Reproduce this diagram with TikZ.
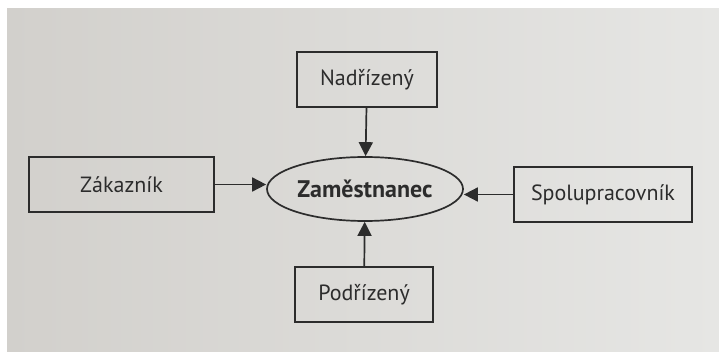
\documentclass[tikz,border=0pt]{standalone}
\usepackage{fontspec}
\setmainfont{PT Sans}
\usetikzlibrary{arrows.meta,shapes.geometric}
\definecolor{paperL}{RGB}{210,208,204}
\definecolor{paperR}{RGB}{230,230,228}
\definecolor{ink}{RGB}{44,44,44}
\tikzset{
  box/.style={draw=ink, line width=1.7pt, rectangle, inner sep=0pt,
    minimum height=55pt, text=ink, font=\fontsize{22}{22}\selectfont},
  hub/.style={draw=ink, line width=1.7pt, ellipse, inner sep=0pt,
    minimum width=196pt, minimum height=64pt, text=ink,
    font=\fontsize{24}{24}\selectfont\bfseries},
  link/.style={draw=ink, line width=1.7pt,
    -{Triangle[length=14pt,width=14pt]}}
}
\begin{document}
\begin{tikzpicture}[x=1pt,y=-1pt]
  \useasboundingbox (0,0) rectangle (719,352);
  % page background
  \fill[white] (0,0) rectangle (719,352);
  \shade[left color=paperL, right color=paperR] (7,9) rectangle (719,352);

  % central ellipse and the four roles around it
  \node[hub] (emp) at (365,189) {Zaměstnanec};
  \node[box, minimum width=140pt] (nad) at (367,79.5) {Nadřízený};
  \node[box, minimum width=185pt] (zak) at (121.5,184.5) {Zákazník};
  \node[box, minimum width=178pt] (spol) at (603,194.5) {Spolupracovník};
  \node[box, minimum width=138pt] (pod) at (364,294.5) {Podřízený};

  % connectors pointing to the employee
  \draw[link] (nad) -- (emp);
  \draw[link] (pod) -- (emp);
  \draw[link] (zak.east) -- (zak.east -| emp.west);
  \draw[link] (spol.west) -- (spol.west -| emp.east);
\end{tikzpicture}
\end{document}
